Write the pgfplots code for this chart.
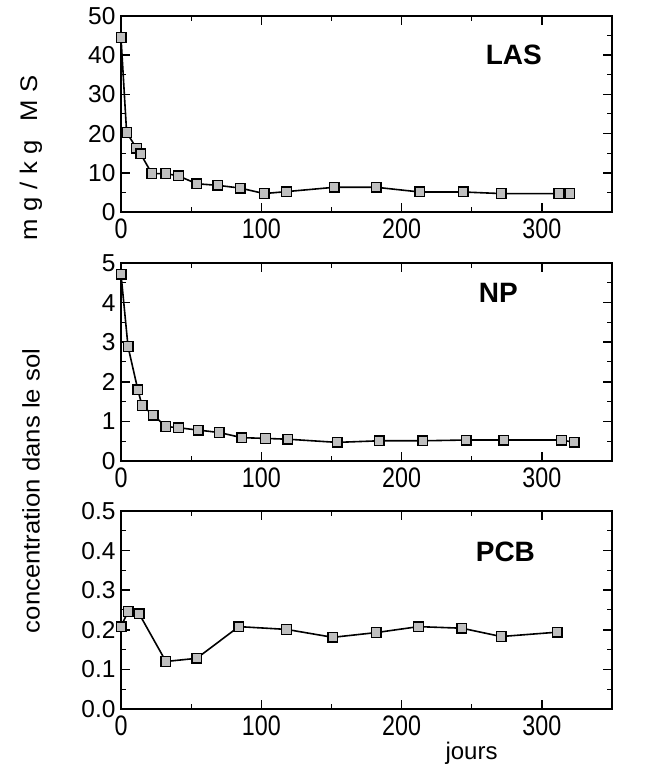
\documentclass[border=0pt]{standalone}
\usepackage{fontspec}
\setmainfont{Liberation Sans}
\usepackage{graphicx}
\usepackage{pgfplots}
\pgfplotsset{compat=1.18}

\pgfplotsset{
  panel/.style={
    scale only axis, width=491pt, height=197pt, clip=false,
    xmin=0, xmax=350, xtick={0,100,200,300},
    minor x tick num=1, minor y tick num=1,
    tick align=inside, major tick length=9pt, minor tick length=5pt,
    axis line style={line width=2pt},
    major tick style={line width=1.5pt, black},
    minor tick style={line width=1pt, black},
    tick label style={font=\fontsize{24.5}{27}\selectfont,
      /pgf/number format/assume math mode=true},
    yticklabel style={xshift=-2pt},
    xticklabel style={yshift=-3pt},
    xticklabel={\scalebox{0.95}[1.15]{\pgfmathprintnumber{\tick}}},
  },
  series/.style={black, line width=1.6pt, mark=square*, mark size=4.8pt,
    mark options={fill=gray!50, draw=black, line width=1.4pt, solid}},
}
\tikzset{tag/.style={font=\fontsize{28}{30}\selectfont\bfseries}}

\begin{document}
\begin{tikzpicture}
\useasboundingbox (0,0) rectangle (646pt,765pt);

% LAS
\begin{axis}[panel, at={(121pt,553pt)}, anchor=south west, height=196pt,
  ymin=0, ymax=50, ytick={0,10,20,30,40,50}]
\addplot[series] coordinates {
(0,44.5)(4,20.3)(11,16.3)(14,14.8)(22,9.8)(32,9.8)(41,9.2)(54,7.2)
(69,6.8)(85,6.1)(102,4.7)(118,5.2)(152,6.3)(182,6.3)(213,5.1)(244,5.1)
(271,4.7)(312,4.7)(320,4.7)};
\node[tag] at (axis cs:280,40) {LAS};
\end{axis}

% NP
\begin{axis}[panel, at={(121pt,304pt)}, anchor=south west, height=198pt,
  ymin=0, ymax=5, ytick={0,1,2,3,4,5}]
\addplot[series] coordinates {
(0,4.72)(5,2.89)(12,1.80)(15,1.40)(23,1.16)(32,0.87)(41,0.84)(55,0.78)
(70,0.72)(86,0.59)(103,0.57)(119,0.55)(154,0.47)(184,0.51)(215,0.51)
(246,0.53)(273,0.53)(314,0.53)(323,0.47)};
\node[tag] at (axis cs:269,4.24) {NP};
\end{axis}

% PCB
\begin{axis}[panel, at={(121pt,56pt)}, anchor=south west, height=198pt,
  ymin=0, ymax=0.5, ytick={0,0.1,0.2,0.3,0.4,0.5},
  yticklabel style={/pgf/number format/.cd, fixed, fixed zerofill, precision=1}]
\addplot[series] coordinates {
(0,0.208)(5,0.246)(13,0.240)(32,0.120)(54,0.128)(84,0.208)(118,0.201)
(151,0.181)(182,0.193)(212,0.208)(243,0.204)(271,0.183)(311,0.194)};
\node[tag] at (axis cs:274,0.396) {PCB};
\node[font=\fontsize{24}{26}\selectfont] at (rel axis cs:0.714,-0.222) {jours};
\end{axis}

\node[rotate=90, font=\fontsize{24}{26}\selectfont] at (31pt,274pt)
  {\scalebox{1.07}[1]{concentration dans le sol}};
\node[rotate=90, font=\fontsize{24}{26}\selectfont] at (31pt,607pt)
  {\scalebox{1.07}[1]{m\hspace{0.3em}g\hspace{0.3em}/\hspace{0.3em}k\hspace{0.3em}g\hspace{0.7em}M\hspace{0.3em}S}};
\end{tikzpicture}
\end{document}
